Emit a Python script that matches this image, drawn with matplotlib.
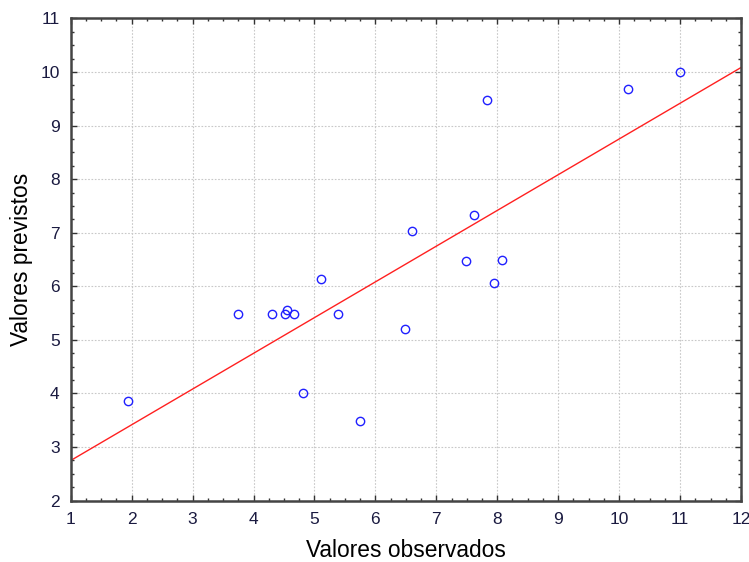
import matplotlib
matplotlib.use("Agg")
import matplotlib.pyplot as plt
import numpy as np
from matplotlib.ticker import MultipleLocator, AutoMinorLocator

plt.rcParams['font.family'] = ['Liberation Sans', 'DejaVu Sans']

observed = [1.94, 3.74, 4.31, 4.52, 4.55, 4.67, 5.10, 5.38, 4.82, 5.74,
            6.49, 6.60, 7.48, 7.62, 7.84, 7.94, 8.08, 10.15, 11.00]
predicted = [3.86, 5.49, 5.49, 5.49, 5.55, 5.49, 6.14, 5.49, 4.01, 3.49,
             5.21, 7.03, 6.48, 7.34, 9.47, 6.07, 6.50, 9.69, 10.01]
fit_intercept = 2.08
fit_slope = 0.667

fig = plt.figure(figsize=(7.49, 5.62), dpi=100)
ax = fig.add_axes([0.0944, 0.1094, 0.8949, 0.8577])

xs = np.array([1.0, 12.0])
ax.plot(xs, fit_intercept + fit_slope * xs, color='#ff2020', lw=1.0, zorder=2)
ax.plot(observed, predicted, linestyle='none', marker='o', markersize=6,
        markerfacecolor='none', markeredgecolor='#2020ff', markeredgewidth=1.0, zorder=3)

ax.set_xlim(1, 12)
ax.set_ylim(2, 11)
ax.xaxis.set_major_locator(MultipleLocator(1))
ax.yaxis.set_major_locator(MultipleLocator(1))
ax.xaxis.set_minor_locator(AutoMinorLocator(4))
ax.yaxis.set_minor_locator(AutoMinorLocator(4))
ax.tick_params(which='both', direction='in', top=True, right=True, color='#333333')
ax.tick_params(which='major', length=4, width=1, labelsize=12.5, labelcolor='#1a1a40')
ax.tick_params(axis='x', which='major', pad=8)
ax.tick_params(axis='y', which='major', pad=8)
ax.tick_params(which='minor', length=2.5, width=1)
ax.grid(True, which='major', color='#c8c8c8', linestyle=(0, (1.5, 1.5)), linewidth=0.8)
for s in ax.spines.values():
    s.set_color('#444444')
    s.set_linewidth(1.8)

ax.set_xlabel('Valores observados', fontsize=16.4, labelpad=9)
ax.set_ylabel('Valores previstos', fontsize=16.4, labelpad=5)

fig.savefig('out.png', dpi=100)
